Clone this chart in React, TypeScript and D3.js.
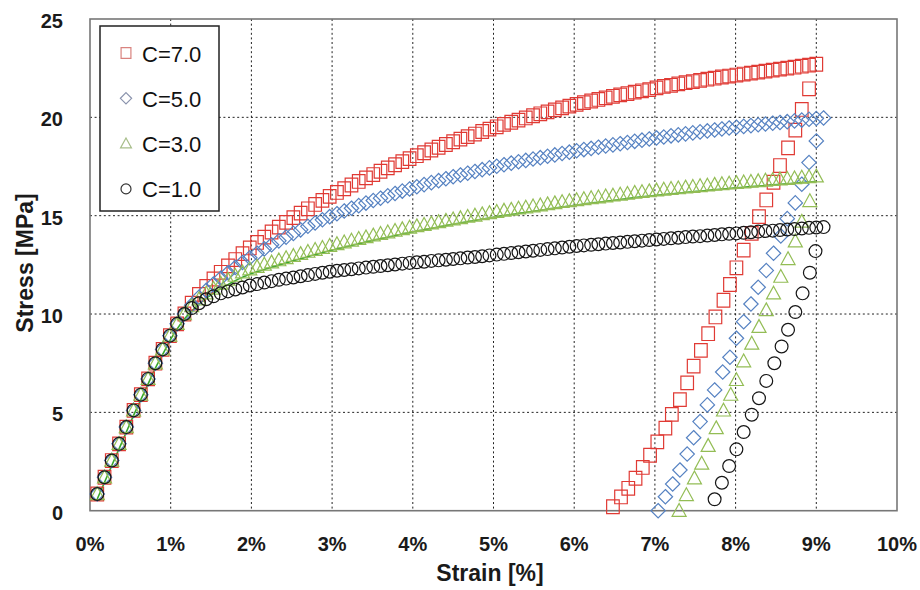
import * as d3 from "d3"

// strain [%] of each loading marker (shared by all four series)
const strainLoad = [
    0.09, 0.18, 0.27, 0.36, 0.45, 0.54, 0.63, 0.72, 0.81, 0.90,
    0.99, 1.08, 1.17, 1.26, 1.35, 1.44, 1.53, 1.62, 1.71, 1.80,
    1.89, 1.98, 2.07, 2.16, 2.25, 2.34, 2.43, 2.52, 2.61, 2.70,
    2.79, 2.88, 2.97, 3.06, 3.15, 3.24, 3.33, 3.42, 3.51, 3.60,
    3.69, 3.78, 3.87, 3.96, 4.05, 4.14, 4.23, 4.32, 4.41, 4.50,
    4.59, 4.68, 4.77, 4.86, 4.95, 5.04, 5.13, 5.22, 5.31, 5.40,
    5.49, 5.58, 5.67, 5.76, 5.85, 5.94, 6.03, 6.12, 6.21, 6.30,
    6.39, 6.48, 6.57, 6.66, 6.75, 6.84, 6.93, 7.02, 7.11, 7.20,
    7.29, 7.38, 7.47, 7.56, 7.65, 7.74, 7.83, 7.92, 8.01, 8.10,
    8.19, 8.28, 8.37, 8.46, 8.55, 8.64, 8.73, 8.82, 8.91, 9.00,
    9.09,
]

// elastic part, identical for every C
const stressElastic = [0.85, 1.7, 2.55, 3.4, 4.25, 5.1, 5.9, 6.7, 7.5, 8.2, 8.9, 9.5, 10.0]

// loading stress [MPa] after the elastic part
const stressC7Load = [
    10.55, 11.0, 11.4, 11.78, 12.12, 12.45, 12.77, 13.07, 13.36,
    13.64, 13.91, 14.17, 14.42, 14.66, 14.9, 15.13, 15.35, 15.57, 15.78, 15.98,
    16.18, 16.37, 16.56, 16.74, 16.92, 17.09, 17.26, 17.43, 17.59, 17.75, 17.9,
    18.05, 18.2, 18.34, 18.48, 18.62, 18.76, 18.89, 19.02, 19.15, 19.28, 19.4,
    19.52, 19.64, 19.75, 19.86, 19.97, 20.08, 20.18, 20.28, 20.38, 20.48, 20.57,
    20.66, 20.75, 20.83, 20.91, 20.99, 21.07, 21.14, 21.21, 21.28, 21.35, 21.41,
    21.5, 21.57, 21.63, 21.7, 21.76, 21.82, 21.88, 21.94, 21.99, 22.05, 22.1,
    22.15, 22.2, 22.25, 22.3, 22.35, 22.4, 22.45, 22.5, 22.55, 22.6, 22.65, 22.7,
]
const stressC5Load = [
    10.45, 10.85, 11.2, 11.52, 11.82, 12.1, 12.37, 12.62, 12.86,
    13.09, 13.31, 13.52, 13.72, 13.91, 14.1, 14.28, 14.46, 14.63, 14.79, 14.95,
    15.1, 15.24, 15.38, 15.51, 15.64, 15.77, 15.89, 16.01, 16.13, 16.25, 16.36,
    16.47, 16.58, 16.68, 16.78, 16.88, 16.98, 17.07, 17.16, 17.25, 17.34, 17.43,
    17.51, 17.59, 17.67, 17.74, 17.81, 17.88, 17.95, 18.02, 18.09, 18.16, 18.23,
    18.3, 18.36, 18.42, 18.48, 18.54, 18.6, 18.66, 18.72, 18.78, 18.84, 18.9,
    18.95, 19.0, 19.06, 19.11, 19.16, 19.21, 19.26, 19.31, 19.36, 19.41, 19.46,
    19.5, 19.54, 19.58, 19.62, 19.66, 19.7, 19.74, 19.78, 19.82, 19.86, 19.9, 19.94,
    19.97,
]
const stressC3Load = [
    10.4, 10.75, 11.05, 11.3, 11.55, 11.75, 11.95, 12.12, 12.28,
    12.4, 12.52, 12.63, 12.74, 12.85, 12.96, 13.06, 13.17, 13.27, 13.37, 13.47,
    13.56, 13.65, 13.74, 13.83, 13.91, 14.0, 14.08, 14.16, 14.24, 14.32, 14.4,
    14.47, 14.54, 14.61, 14.68, 14.75, 14.82, 14.88, 14.95, 15.01, 15.08, 15.14,
    15.2, 15.26, 15.31, 15.37, 15.42, 15.48, 15.53, 15.59, 15.64, 15.7, 15.75,
    15.8, 15.85, 15.9, 15.94, 15.99, 16.03, 16.08, 16.12, 16.17, 16.21, 16.25,
    16.29, 16.33, 16.37, 16.4, 16.44, 16.47, 16.51, 16.54, 16.58, 16.61, 16.64,
    16.67, 16.7, 16.73, 16.76, 16.79, 16.82, 16.85, 16.88, 16.91, 16.94, 16.97, 17.0,
]
const stressC1Load = [
    10.3, 10.55, 10.75, 10.9, 11.05, 11.15, 11.25, 11.35, 11.45,
    11.52, 11.6, 11.67, 11.74, 11.8, 11.86, 11.92, 11.98, 12.04, 12.1, 12.15,
    12.2, 12.24, 12.28, 12.32, 12.36, 12.4, 12.44, 12.48, 12.52, 12.56, 12.6,
    12.63, 12.66, 12.7, 12.73, 12.76, 12.8, 12.83, 12.87, 12.9, 12.94, 12.98,
    13.02, 13.06, 13.1, 13.14, 13.18, 13.22, 13.26, 13.3, 13.34, 13.38, 13.42,
    13.46, 13.49, 13.52, 13.55, 13.58, 13.61, 13.64, 13.67, 13.7, 13.73, 13.76,
    13.79, 13.82, 13.85, 13.88, 13.91, 13.94, 13.96, 13.99, 14.02, 14.05, 14.08,
    14.1, 14.13, 14.16, 14.19, 14.22, 14.24, 14.27, 14.3, 14.32, 14.35, 14.38, 14.4,
    14.42,
]

// unloading branches
const strainC7Unload = [8.91, 8.82, 8.74, 8.65, 8.55, 8.47, 8.38, 8.29, 8.20, 8.10, 8.01, 7.93, 7.85, 7.75, 7.66, 7.57, 7.48, 7.40, 7.31, 7.21, 7.13, 7.03, 6.94, 6.85, 6.76, 6.67, 6.58, 6.48]
const stressC7Unload = [21.45, 20.4, 19.35, 18.45, 17.55, 16.7, 15.8, 14.95, 14.1, 13.25, 12.35, 11.5, 10.7, 9.85, 9.0, 8.15, 7.35, 6.5, 5.65, 4.9, 4.2, 3.5, 2.82, 2.2, 1.65, 1.14, 0.7, 0.2]
const strainC5Unload = [9.00, 8.91, 8.82, 8.74, 8.64, 8.56, 8.47, 8.38, 8.28, 8.19, 8.10, 8.01, 7.93, 7.84, 7.74, 7.65, 7.56, 7.48, 7.40, 7.31, 7.22, 7.13, 7.04]
const stressC5Unload = [18.8, 17.7, 16.6, 15.65, 14.85, 13.97, 13.09, 12.21, 11.36, 10.51, 9.61, 8.77, 7.8, 7.05, 6.14, 5.38, 4.53, 3.71, 2.88, 2.07, 1.36, 0.71, 0.0]
const strainC3Unload = [8.92, 8.82, 8.74, 8.65, 8.56, 8.47, 8.38, 8.29, 8.20, 8.10, 8.01, 7.94, 7.85, 7.76, 7.66, 7.58, 7.49, 7.39, 7.30]
const stressC3Unload = [15.75, 14.7, 13.7, 12.8, 11.9, 11.05, 10.2, 9.35, 8.5, 7.6, 6.65, 5.9, 5.1, 4.2, 3.3, 2.4, 1.65, 0.8, 0.0]
const strainC1Unload = [8.99, 8.92, 8.83, 8.74, 8.65, 8.57, 8.48, 8.38, 8.29, 8.20, 8.10, 8.01, 7.92, 7.83, 7.74]
const stressC1Unload = [13.2, 12.1, 11.05, 10.1, 9.2, 8.35, 7.5, 6.6, 5.72, 4.88, 4.0, 3.12, 2.27, 1.42, 0.58]

const seriesNames = ["C=7.0", "C=5.0", "C=3.0", "C=1.0"]
const xTicks = [0, 1, 2, 3, 4, 5, 6, 7, 8, 9, 10]
const yTicks = [0, 5, 10, 15, 20, 25]

const FONT = "'Liberation Sans', Arial, sans-serif"

function markerPath(shape: string, k = 1) {
    if (shape === "square") return `M${-6.3 * k},${-6.8 * k}h${12.6 * k}v${13.6 * k}h${-12.6 * k}Z`
    if (shape === "diamond") return `M0,${-7.2 * k}L${7.2 * k},0L0,${7.2 * k}L${-7.2 * k},0Z`
    if (shape === "triangle") return `M0,${-7.2 * k}L${7 * k},${5.6 * k}L${-7 * k},${5.6 * k}Z`
    return d3.arc()({ innerRadius: 0, outerRadius: 6.4 * k, startAngle: 0, endAngle: 2 * Math.PI }) as string
}

function toPoints(strain: number[], stress: number[]) {
    return stress.map((s, i) => ({ x: strain[i], y: s }))
}

export default function App() {
    const width = 920
    const height = 590
    const x = d3.scaleLinear().domain([0, 10]).range([90, 897])
    const y = d3.scaleLinear().domain([0, 25]).range([510.7, 19])

    const series = [
        { name: seriesNames[0], shape: "square", color: "#e03a34", legendColor: "#d9837f",
          load: stressElastic.concat(stressC7Load), unStrain: strainC7Unload, unStress: stressC7Unload },
        { name: seriesNames[1], shape: "diamond", color: "#5682c2", legendColor: "#8a93ad",
          load: stressElastic.concat(stressC5Load), unStrain: strainC5Unload, unStress: stressC5Unload },
        { name: seriesNames[2], shape: "triangle", color: "#93bd55", legendColor: "#a8be8a",
          load: stressElastic.concat(stressC3Load), unStrain: strainC3Unload, unStress: stressC3Unload },
        { name: seriesNames[3], shape: "circle", color: "#161616", legendColor: "#333",
          load: stressElastic.concat(stressC1Load), unStrain: strainC1Unload, unStress: stressC1Unload },
    ].map(s => ({
        ...s,
        points: toPoints(strainLoad, s.load).concat(toPoints(s.unStrain, s.unStress)),
        loadPoints: toPoints(strainLoad, s.load),
    }))

    const greenLine = d3.line<{ x: number; y: number }>()
        .x(d => x(d.x))
        .y(d => y(d.y))
        .curve(d3.curveMonotoneX)

    const legendX = 100
    const legendY = 26

    return (
        <svg width={width} height={height} style={{ position: "absolute", left: 0, top: 0, background: "#fff" }}
            fontFamily={FONT}>
            {/* grid */}
            <g stroke="#222" strokeWidth={1} strokeDasharray="2,2.6">
                {xTicks.slice(1, -1).map(t => (
                    <line key={"gx" + t} x1={x(t)} x2={x(t)} y1={y(25)} y2={y(0)} />
                ))}
                {yTicks.slice(1, -1).map(t => (
                    <line key={"gy" + t} x1={x(0)} x2={x(10)} y1={y(t)} y2={y(t)} />
                ))}
            </g>
            <rect x={x(0)} y={y(25)} width={x(10) - x(0)} height={y(0) - y(25)}
                fill="none" stroke="#777" strokeWidth={1.6} />

            {/* axis labels */}
            <g fontSize={20} fontWeight={700} fill="#1a1a1a">
                {yTicks.map(t => (
                    <text key={"yl" + t} x={63} y={y(t) + 2} textAnchor="end" dominantBaseline="central">{t}</text>
                ))}
                {xTicks.map(t => (
                    <text key={"xl" + t} x={x(t)} y={551} textAnchor="middle">{t}%</text>
                ))}
            </g>
            <text x={490} y={581} textAnchor="middle" fontSize={23} fontWeight={700} fill="#1a1a1a">Strain [%]</text>
            <text transform={`translate(33,263) rotate(-90)`} textAnchor="middle" fontSize={23} fontWeight={700}
                fill="#1a1a1a">Stress [MPa]</text>

            {/* fitted line under the C=3.0 triangles */}
            <path d={greenLine(series[2].loadPoints) ?? ""} transform="translate(0,5)" fill="none"
                stroke="#37a62c" strokeWidth={1.6} />

            {/* markers */}
            {series.map(s => (
                <g key={s.name} fill="none" stroke={s.color} strokeWidth={1.2}>
                    {s.points.map((p, i) => (
                        <path key={i} d={markerPath(s.shape)} transform={`translate(${x(p.x)},${y(p.y)})`} />
                    ))}
                </g>
            ))}

            {/* legend */}
            <rect x={legendX} y={legendY} width={119} height={185} fill="#fff" stroke="#222" strokeWidth={1.5} />
            {series.map((s, i) => (
                <g key={"lg" + s.name} transform={`translate(${legendX + 26},${legendY + 27 + i * 45.3})`}>
                    <path d={markerPath(s.shape, 0.78)} fill="none" stroke={s.legendColor} strokeWidth={1.2} />
                    <text x={16} y={1} dominantBaseline="central" fontSize={22} fill="#111">{s.name}</text>
                </g>
            ))}
        </svg>
    )
}
